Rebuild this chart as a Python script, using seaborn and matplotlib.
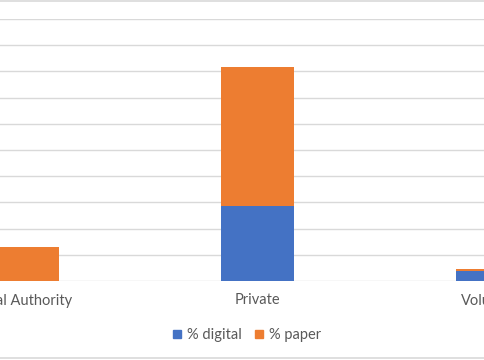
import matplotlib
matplotlib.use("Agg")
import matplotlib.pyplot as plt
from matplotlib.lines import Line2D
import seaborn as sns
import pandas as pd

categories = ["Local Authority", "Private", "Voluntary"]
digital = [0.0, 28.6, 3.8]
paper = [13.1, 52.9, 0.7]
series_labels = ["% digital", "% paper"]
y_ticks = [0, 10, 20, 30, 40, 50, 60, 70, 80, 90, 100]

BLUE = "#4472C4"
ORANGE = "#ED7D31"
GRID = "#D9D9D9"
TEXT = "#595959"

sns.set_theme(style="white")
plt.rcParams["font.family"] = ["Lato", "DejaVu Sans"]

df = pd.DataFrame({"category": categories, "digital": digital, "paper": paper})
df["total"] = df["digital"] + df["paper"]

fig = plt.figure(figsize=(4.85, 3.6), dpi=100)
ax = fig.add_axes([-95.2 / 485, 79 / 360, 705 / 485, 262 / 360])

sns.barplot(data=df, x="category", y="total", color=ORANGE, width=0.312,
            saturation=1, linewidth=0, ax=ax, zorder=3)
sns.barplot(data=df, x="category", y="digital", color=BLUE, width=0.312,
            saturation=1, linewidth=0, ax=ax, zorder=4)

ax.set_xlim(-0.5, 2.5)
ax.set_ylim(0, 100)
ax.set_yticks(y_ticks)
ax.yaxis.grid(True, color=GRID, linewidth=1)
ax.set_axisbelow(True)
for s in ax.spines.values():
    s.set_visible(False)
ax.tick_params(axis="y", left=False, labelleft=False)
ax.tick_params(axis="x", bottom=False, labelsize=10.5, colors=TEXT, pad=3)
ax.set_xlabel("")
ax.set_ylabel("")

handles = [Line2D([], [], marker="s", linestyle="none", markersize=5.5,
                  markerfacecolor=c, markeredgecolor=c) for c in (BLUE, ORANGE)]
fig.legend(handles, series_labels, loc="center", bbox_to_anchor=(0.506, 1 - 335 / 360),
           ncol=2, frameon=False, fontsize=10.5, labelcolor=TEXT,
           handletextpad=0.15, columnspacing=0.7, handlelength=1.0)

fig.add_artist(Line2D([0, 1], [1 - 0.7 / 360, 1 - 0.7 / 360], color=GRID, lw=1.2,
                      transform=fig.transFigure))
fig.add_artist(Line2D([0, 1], [1 - 358.3 / 360, 1 - 358.3 / 360], color=GRID, lw=1.2,
                      transform=fig.transFigure))

fig.savefig("out.png", dpi=100)
